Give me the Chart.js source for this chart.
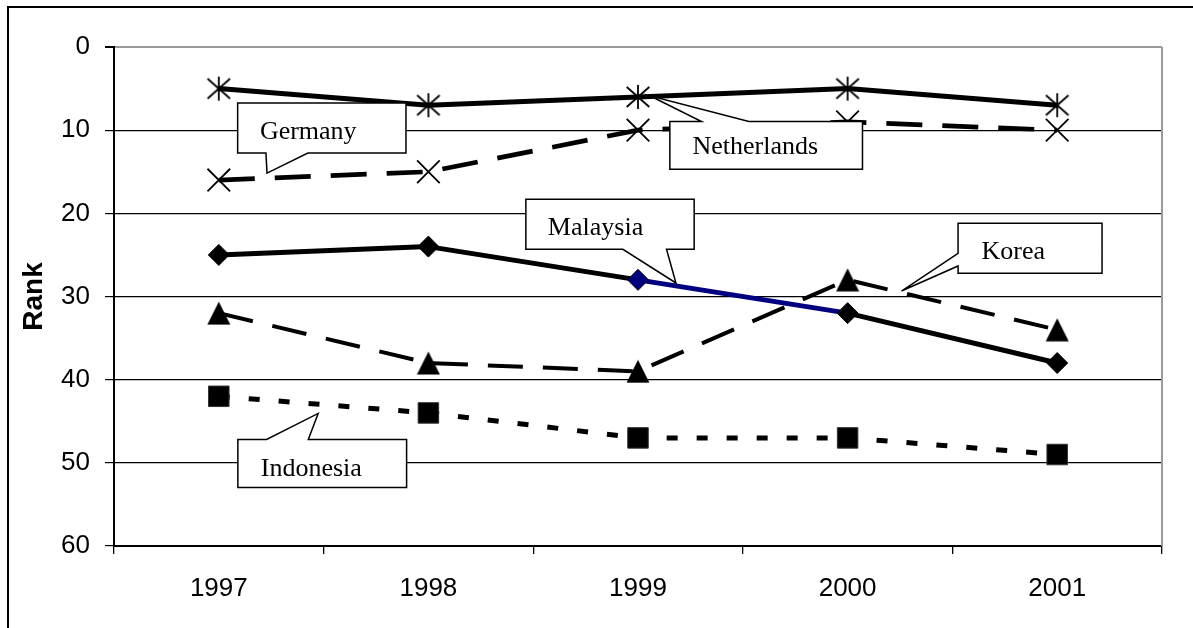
<!DOCTYPE html>
<html><head><meta charset="utf-8">
<script src="https://cdn.jsdelivr.net/npm/chart.js@4.4.0/dist/chart.umd.min.js"></script>
<style>html,body{margin:0;padding:0;background:#fff;overflow:hidden}canvas{display:block}</style>
</head><body>
<canvas id="c" width="1193" height="628"></canvas>
<script>
// ---- data ----
const years = ['1997', '1998', '1999', '2000', '2001'];
const netherlands = [5, 7, 6, 5, 7];
const germany = [16, 15, 10, 9, 10];
const malaysia = [25, 24, 28, 32, 38];
const korea = [32, 38, 39, 28, 34];
const indonesia = [42, 44, 47, 47, 49];
const rankTicks = [0, 10, 20, 30, 40, 50, 60];
const axisTitle = 'Rank';
const calloutNames = ['Germany', 'Netherlands', 'Malaysia', 'Korea', 'Indonesia'];

// ---- callout geometry (in data units: x = category index, y = rank) ----
const callouts = [
  {text: calloutNames[0], box: [0.090, 6.74, 0.893, 12.76], edge: 'bottom', a: 0.225, b: 0.425, tip: [0.230, 15.17], at: [0.196, 11.04]},
  {text: calloutNames[1], box: [2.152, 8.956, 3.071, 14.69], edge: 'top', a: 2.303, b: 2.529, tip: [2.056, 5.86], at: [2.260, 12.84]},
  {text: calloutNames[2], box: [1.465, 18.30, 2.268, 24.32], edge: 'bottom', a: 1.928, b: 2.136, tip: [2.181, 28.37], at: [1.570, 22.60]},
  {text: calloutNames[3], box: [3.527, 21.19, 4.214, 27.21], edge: 'left', a: 24.80, b: 26.33, tip: [3.257, 29.34], at: [3.639, 25.48]},
  {text: calloutNames[4], box: [0.091, 47.19, 0.896, 52.97], edge: 'top', a: 0.228, b: 0.427, tip: [0.474, 44.06], at: [0.200, 51.61]}
];

// ---- marker images ----
function makeAsterisk() {
  const c = document.createElement('canvas'); c.width = 26; c.height = 26;
  const g = c.getContext('2d');
  g.strokeStyle = '#000'; g.lineWidth = 1.8;
  g.beginPath();
  g.moveTo(13, 1); g.lineTo(13, 25);
  g.moveTo(1.7, 3); g.lineTo(24.3, 23);
  g.moveTo(24.3, 3); g.lineTo(1.7, 23);
  g.stroke();
  return c;
}
function makeTriangle() {
  const c = document.createElement('canvas'); c.width = 24; c.height = 24;
  const g = c.getContext('2d');
  g.fillStyle = '#000';
  g.beginPath(); g.moveTo(12, 0.5); g.lineTo(23.5, 23.5); g.lineTo(0.5, 23.5); g.closePath(); g.fill();
  return c;
}
const asterisk = makeAsterisk();
const triangle = makeTriangle();
const NAVY = '#000080';

const decorPlugin = {
  id: 'decor',
  beforeDatasetsDraw(chart) {
    const {ctx, chartArea: ca} = chart;
    ctx.save();
    ctx.strokeStyle = '#9a9a9a'; ctx.lineWidth = 2;
    ctx.beginPath(); ctx.moveTo(ca.right, ca.top); ctx.lineTo(ca.right, ca.bottom); ctx.stroke();
    ctx.restore();
  },
  afterDatasetsDraw(chart) {
    const {ctx} = chart;
    const xs = chart.scales.x, ys = chart.scales.y;
    const X = v => xs.getPixelForValue(v), Y = v => ys.getPixelForValue(v);
    ctx.save();
    ctx.lineWidth = 1.5; ctx.strokeStyle = '#000'; ctx.lineJoin = 'miter';
    callouts.forEach(c => {
      const [x0, y0, x1, y1] = c.box;
      let pts;
      if (c.edge === 'bottom') pts = [[x0, y0], [x1, y0], [x1, y1], [c.b, y1], c.tip, [c.a, y1], [x0, y1]];
      else if (c.edge === 'top') pts = [[x0, y0], [c.a, y0], c.tip, [c.b, y0], [x1, y0], [x1, y1], [x0, y1]];
      else pts = [[x0, y0], [x1, y0], [x1, y1], [x0, y1], [x0, c.b], c.tip, [x0, c.a]];
      ctx.beginPath();
      pts.forEach((p, i) => { const px = X(p[0]), py = Y(p[1]); if (i) ctx.lineTo(px, py); else ctx.moveTo(px, py); });
      ctx.closePath();
      ctx.fillStyle = '#fff'; ctx.fill(); ctx.stroke();
      ctx.fillStyle = '#000';
      ctx.font = '26px "Liberation Serif", "Times New Roman", serif';
      ctx.textAlign = 'left'; ctx.textBaseline = 'alphabetic';
      ctx.fillText(c.text, X(c.at[0]), Y(c.at[1]));
    });
    ctx.restore();
  },
  afterDraw(chart) {
    const {ctx} = chart;
    ctx.save();
    ctx.fillStyle = '#000';
    ctx.fillRect(7, 6, chart.width - 7, 2);
    ctx.fillRect(7, 6, 2, chart.height - 6);
    ctx.restore();
  }
};

const base = {fill: false, tension: 0, borderCapStyle: 'butt', borderJoinStyle: 'round'};

new Chart(document.getElementById('c'), {
  type: 'line',
  data: {
    labels: years,
    datasets: [
      Object.assign({}, base, {label: 'Netherlands', data: netherlands, borderColor: '#000', borderWidth: 5,
        pointStyle: asterisk, pointRadius: 13}),
      Object.assign({}, base, {label: 'Germany', data: germany, borderColor: '#000', borderWidth: 4.7, borderDash: [36, 20],
        pointStyle: 'crossRot', pointRadius: 16, pointBorderWidth: 1.8, pointBorderColor: '#000', pointBackgroundColor: '#000'}),
      Object.assign({}, base, {label: 'Korea', data: korea, borderColor: '#000', borderWidth: 4, borderDash: [35, 20],
        pointStyle: triangle, pointRadius: 12}),
      Object.assign({}, base, {label: 'Malaysia', data: malaysia, borderColor: '#000', borderWidth: 5,
        segment: {borderColor: c => c.p0DataIndex === 2 ? NAVY : undefined},
        pointStyle: 'rectRot', pointRadius: 10.5, pointBorderWidth: 1, pointBorderColor: '#000',
        pointBackgroundColor: c => c.dataIndex === 2 ? NAVY : '#000'}),
      Object.assign({}, base, {label: 'Indonesia', data: indonesia, borderColor: '#000', borderWidth: 5, borderDash: [11, 19],
        pointStyle: 'rect', pointRadius: 14.5, pointBorderWidth: 1, pointBorderColor: '#333', pointBackgroundColor: '#000'})
    ]
  },
  options: {
    responsive: false,
    animation: false,
    devicePixelRatio: 1,
    layout: {padding: {top: 47, right: 31, left: 0, bottom: 0}},
    plugins: {legend: {display: false}, tooltip: {enabled: false}},
    scales: {
      x: {
        type: 'category',
        offset: true,
        afterFit: s => { s.height = 82; },
        grid: {drawOnChartArea: false, offset: true, tickLength: 8, color: '#000', lineWidth: 1.3},
        border: {color: '#000', width: 2},
        ticks: {color: '#000', padding: 19, font: {family: '"Liberation Sans", Arial, sans-serif', size: 26}, maxRotation: 0, autoSkip: false}
      },
      y: {
        type: 'linear',
        reverse: true,
        min: rankTicks[0],
        max: rankTicks[rankTicks.length - 1],
        afterFit: s => { s.width = 114; },
        afterBuildTicks: s => { s.ticks = rankTicks.map(v => ({value: v})); },
        grid: {color: c => c.tick && c.tick.value === 0 ? '#9a9a9a' : '#000', lineWidth: c => c.tick && c.tick.value === 0 ? 2 : 1.2,
               tickColor: '#000', tickLength: 9},
        border: {color: '#000', width: 2},
        ticks: {color: '#000', padding: 15, font: {family: '"Liberation Sans", Arial, sans-serif', size: 26}},
        title: {display: true, text: axisTitle, color: '#000', padding: {top: 17, bottom: 0},
                font: {family: '"Liberation Sans", Arial, sans-serif', size: 28, weight: 'bold'}}
      }
    }
  },
  plugins: [decorPlugin]
});
</script>
</body></html>
